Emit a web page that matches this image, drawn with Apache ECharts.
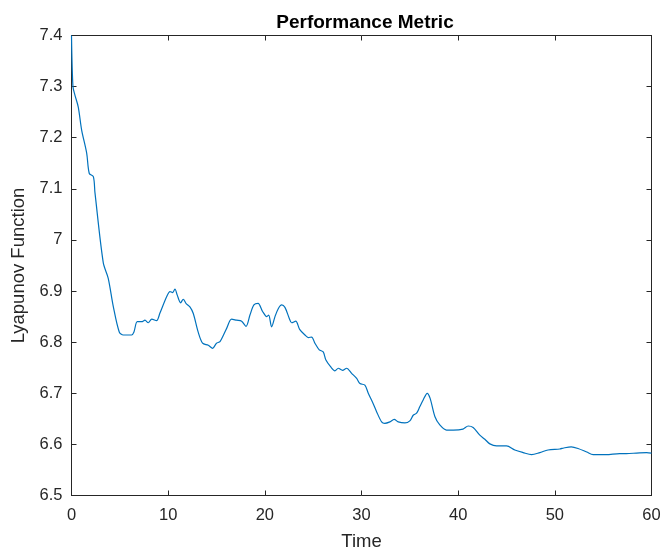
<!DOCTYPE html>
<html>
<head>
<meta charset="utf-8">
<script src="https://cdn.jsdelivr.net/npm/echarts@6/dist/echarts.min.js"></script>
<style>
  html, body { margin: 0; padding: 0; background: #fff; }
  #chart { width: 665px; height: 557px; }
</style>
</head>
<body>
<div id="chart"></div>
<script>
// Sample times (s)
const time = [
  0, 0.15, 0.36, 0.7, 1.05, 1.57, 1.84, 2.26, 2.43, 3.29, 3.8, 4.32, 4.94, 5.36, 6.22,
  6.46, 6.8, 7.26, 7.6, 7.94, 8.3, 8.8, 9.15, 9.84, 10.19, 10.46, 10.7, 10.94, 11.29,
  11.56, 11.84, 12.25, 12.6, 13.1, 13.56, 14.15, 14.6, 15.0, 15.36, 16.05, 16.56, 17.08,
  17.6, 18.05, 18.46, 18.87, 19.3, 19.77, 20.2, 20.4, 20.7, 21.05, 21.4, 21.74, 22.08,
  22.52, 22.77, 23.2, 23.6, 24.15, 24.5, 24.84, 25.18, 25.63, 26.04, 26.32, 26.8, 27.25,
  27.6, 28.04, 28.46, 28.98, 29.5, 29.84, 30.35, 30.7, 31.2, 31.56, 32.08, 32.4, 32.94,
  33.38, 33.8, 34.49, 35.0, 35.35, 35.7, 36.04, 36.38, 36.8, 37.1, 37.6, 38.1, 38.8,
  39.5, 40.5, 41.04, 41.55, 42.24, 42.76, 43.28, 43.97, 45.0, 45.86, 46.72, 47.6, 48.45,
  49.3, 50.52, 50.93, 51.7, 52.4, 53.3, 53.96, 55.3, 56.7, 57.4, 58.45, 59.5, 60
];

// Lyapunov function value at each sample
const lyapunov = [
  7.40, 7.30, 7.283, 7.26, 7.215, 7.17, 7.13, 7.124, 7.092, 6.955, 6.925, 6.87, 6.82, 6.814, 6.814,
  6.82, 6.84, 6.84, 6.843, 6.838, 6.845, 6.842, 6.857, 6.889, 6.899, 6.897, 6.904, 6.892, 6.877,
  6.884, 6.876, 6.869, 6.856, 6.82, 6.798, 6.794, 6.788, 6.798, 6.801, 6.827, 6.845, 6.843,
  6.841, 6.831, 6.853, 6.873, 6.876, 6.86, 6.85, 6.853, 6.83, 6.85, 6.866, 6.873, 6.868,
  6.847, 6.838, 6.841, 6.825, 6.814, 6.809, 6.81, 6.798, 6.785, 6.781, 6.765, 6.752, 6.744,
  6.749, 6.745, 6.749, 6.739, 6.729, 6.719, 6.716, 6.70, 6.68, 6.664, 6.644, 6.641, 6.644,
  6.649, 6.644, 6.642, 6.646, 6.657, 6.661, 6.674, 6.687, 6.70, 6.69, 6.654, 6.638, 6.628,
  6.628, 6.63, 6.636, 6.633, 6.618, 6.61, 6.601, 6.597, 6.597, 6.589, 6.584, 6.58, 6.584,
  6.589, 6.591, 6.593, 6.595, 6.592, 6.585, 6.58, 6.58, 6.582, 6.582, 6.583, 6.584, 6.583
];

const xTicks = { min: 0, max: 60, interval: 10 };
const yTicks = { min: 6.5, max: 7.4, interval: 0.1 };

const ink = '#262626';
const font = 'Liberation Sans, Arial, Helvetica, sans-serif';

const chart = echarts.init(document.getElementById('chart'), null, { renderer: 'canvas' });

// Shared style for the four sides of the box; ticks point inward
const boxAxis = (extra) => Object.assign({
  type: 'value',
  axisLine: { show: true, onZero: false, lineStyle: { color: ink, width: 1 } },
  axisTick: { show: true, inside: true, length: 5, lineStyle: { color: ink } },
  splitLine: { show: false },
  axisLabel: { show: false }
}, extra);

chart.setOption({
  animation: false,
  backgroundColor: '#ffffff',
  title: {
    text: 'Performance Metric',
    left: 360, top: 8, textAlign: 'center',
    textStyle: { fontFamily: font, fontSize: 19, fontWeight: 'bold', color: '#000' }
  },
  grid: { left: 71.5, right: 13.5, top: 35.5, bottom: 61.5, containLabel: false },
  xAxis: [
    boxAxis({
      position: 'bottom', min: xTicks.min, max: xTicks.max, interval: xTicks.interval,
      name: 'Time', nameLocation: 'middle', nameGap: 36.5,
      nameTextStyle: { fontFamily: font, fontSize: 18.5, color: ink },
      axisLabel: { show: true, margin: 11, fontFamily: font, fontSize: 16.5, color: ink }
    }),
    boxAxis({ position: 'top', min: xTicks.min, max: xTicks.max, interval: xTicks.interval })
  ],
  yAxis: [
    boxAxis({
      position: 'left', min: yTicks.min, max: yTicks.max, interval: yTicks.interval,
      name: 'Lyapunov Function', nameLocation: 'middle', nameGap: 40,
      nameTextStyle: { fontFamily: font, fontSize: 18.5, color: ink },
      axisLabel: {
        show: true, margin: 9, fontFamily: font, fontSize: 16.5, color: ink,
        formatter: (v) => String(Math.round(v * 10) / 10)
      }
    }),
    boxAxis({ position: 'right', min: yTicks.min, max: yTicks.max, interval: yTicks.interval })
  ],
  series: [{
    type: 'line',
    xAxisIndex: 0, yAxisIndex: 0,
    data: time.map((t, i) => [t, lyapunov[i]]),
    showSymbol: false,
    smooth: 0.3,
    clip: true,
    lineStyle: { color: '#0072BD', width: 1.2 }
  }]
});
</script>
</body>
</html>
